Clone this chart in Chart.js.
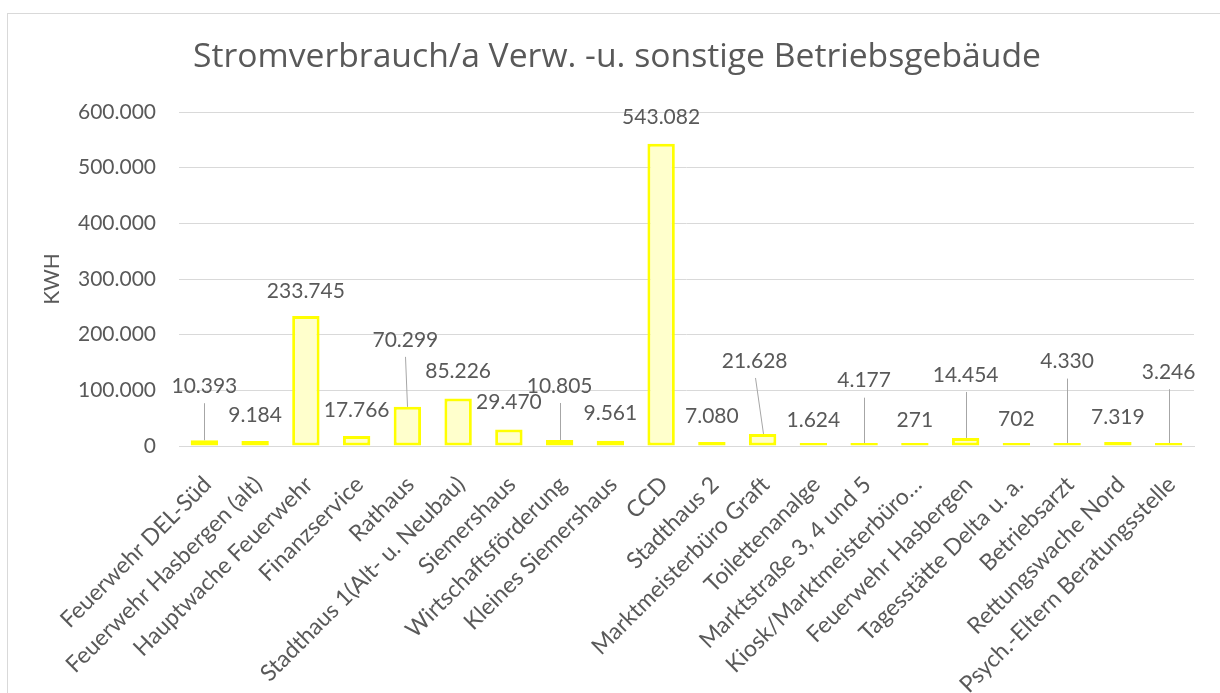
<!DOCTYPE html>
<html>
<head>
<meta charset="utf-8">
<script src="https://cdn.jsdelivr.net/npm/chart.js@4/dist/chart.umd.min.js"></script>
<style>
  html, body { margin: 0; padding: 0; background: #ffffff; }
  body { width: 1220px; height: 693px; position: relative; overflow: hidden; }
  #frame { position: absolute; left: 7px; top: 13px; width: 1300px; height: 800px;
           border-left: 1px solid #D9D9D9; border-top: 1px solid #D9D9D9; box-sizing: border-box; }
  #wrap { position: absolute; left: 0; top: 0; width: 1220px; height: 693px; }
</style>
</head>
<body>
<div id="frame"></div>
<div id="wrap"><canvas id="c" width="1220" height="693"></canvas></div>
<script>
const titleText = 'Stromverbrauch/a Verw. -u. sonstige Betriebsgebäude';
const yAxisTitle = 'KWH';
const categories = [
  'Feuerwehr DEL-Süd',
  'Feuerwehr Hasbergen (alt)',
  'Hauptwache Feuerwehr',
  'Finanzservice',
  'Rathaus',
  'Stadthaus 1(Alt- u. Neubau)',
  'Siemershaus',
  'Wirtschaftsförderung',
  'Kleines Siemershaus',
  'CCD',
  'Stadthaus 2',
  'Marktmeisterbüro Graft',
  'Toilettenanalge',
  'Marktstraße 3, 4 und 5',
  'Kiosk/Marktmeisterbüro…',
  'Feuerwehr Hasbergen',
  'Tagesstätte Delta u. a.',
  'Betriebsarzt',
  'Rettungswache Nord',
  'Psych.-Eltern Beratungsstelle'
];
const values = [10393, 9184, 233745, 17766, 70299, 85226, 29470, 10805, 9561, 543082,
                7080, 21628, 1624, 4177, 271, 14454, 702, 4330, 7319, 3246];
const yMin = 0, yMax = 600000, yStep = 100000;

// data label placement (pixel offsets from bar top), layout only
const labelDx = [0, 0, 0, 0, -2, 0, 0, 0, 0, 0, 0, -8, 0, 0, 0, 0, 0, 0, 0, 0];
const labelDy = [-54, -26, -25, -26, -67, -27, -27, -54, -27, -26, -26, -73, -25, -63, -26, -63, -26, -82, -25, -72];

function fmtDE(v) {
  return String(Math.round(v)).replace(/\B(?=(\d{3})+(?!\d))/g, '.');
}

const FONT = 'Lato';
const TXT = '#595959';

const dataLabelPlugin = {
  id: 'dataLabels',
  afterDatasetsDraw(chart) {
    const ctx = chart.ctx;
    const meta = chart.getDatasetMeta(0);
    const zeroY = chart.scales.y.getPixelForValue(0);
    ctx.save();
    ctx.font = '21px ' + FONT;
    ctx.fillStyle = TXT;
    ctx.textAlign = 'center';
    ctx.textBaseline = 'middle';
    meta.data.forEach((bar, i) => {
      const topY = chart.scales.y.getPixelForValue(chart.data.datasets[0].data[i]);
      const lx = bar.x + labelDx[i];
      const ly = topY + labelDy[i];
      if (labelDy[i] < -40) {
        ctx.strokeStyle = '#A6A6A6';
        ctx.lineWidth = 1;
        ctx.beginPath();
        ctx.moveTo(Math.round(lx) + 0.5, ly + 17);
        ctx.lineTo(Math.round(bar.x) + 0.5, Math.min(bar.y, zeroY - 2));
        ctx.stroke();
      }
      ctx.fillText(fmtDE(chart.data.datasets[0].data[i]), lx, ly);
    });
    ctx.restore();
  }
};

new Chart(document.getElementById('c'), {
  type: 'bar',
  data: {
    labels: categories,
    datasets: [{
      data: values,
      backgroundColor: '#FFFFCC',
      borderColor: '#FFFF00',
      borderWidth: 3,
      borderSkipped: false,
      minBarLength: 3,
      barPercentage: 0.54,
      categoryPercentage: 1.0
    }]
  },
  options: {
    responsive: false,
    animation: false,
    devicePixelRatio: 1,
    layout: { padding: { left: 40, right: 26, top: 20, bottom: 0 } },
    plugins: {
      legend: { display: false },
      tooltip: { enabled: false },
      title: {
        display: true,
        text: titleText,
        color: TXT,
        font: { family: 'Open Sans', size: 33.7, weight: 'normal', lineHeight: 1.2 },
        padding: { top: 16.8, bottom: 34.8 }
      }
    },
    scales: {
      x: {
        grid: { display: false, drawTicks: false },
        border: { display: true, color: '#D9D9D9' },
        ticks: {
          autoSkip: false,
          minRotation: 45,
          maxRotation: 45,
          color: TXT,
          font: { family: FONT, size: 23 },
          padding: 25,
          labelOffset: 3
        },
        afterFit(scale) { scale.height = 247; }
      },
      y: {
        min: yMin,
        max: yMax,
        grid: { color: '#D9D9D9', lineWidth: 1, drawTicks: false },
        border: { display: false },
        ticks: {
          stepSize: yStep,
          color: TXT,
          font: { family: FONT, size: 21 },
          padding: 23,
          callback: (v) => fmtDE(v)
        },
        title: {
          display: true,
          text: yAxisTitle,
          color: TXT,
          font: { family: FONT, size: 21 },
          padding: { top: 0, bottom: 0 }
        },
        afterFit(scale) { scale.width = 139; }
      }
    }
  },
  plugins: [dataLabelPlugin]
});
</script>
</body>
</html>
